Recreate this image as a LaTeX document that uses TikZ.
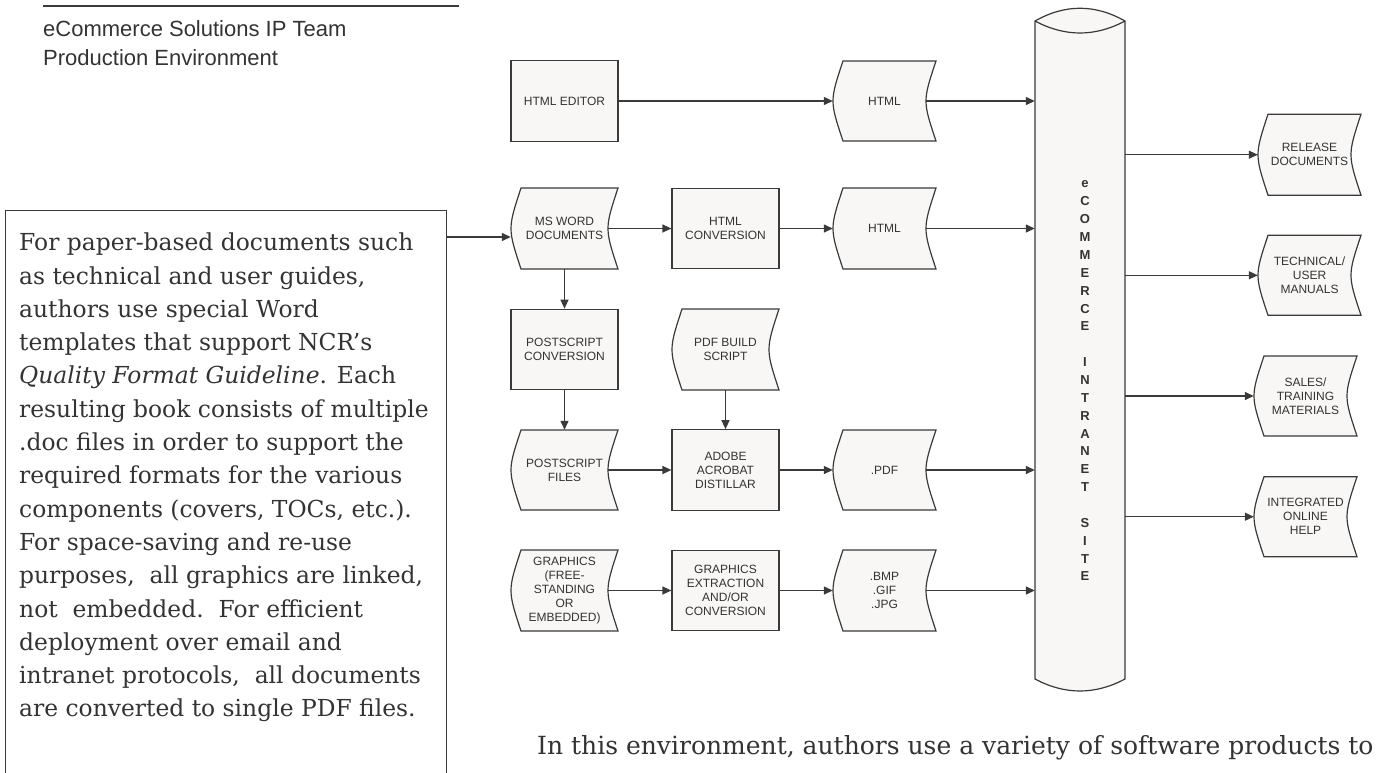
\documentclass[tikz,border=0pt]{standalone}
\usepackage{fontspec}
\setmainfont{DejaVu Serif}
\newfontfamily\arial{Liberation Sans}
\usetikzlibrary{arrows.meta}
\definecolor{shp}{HTML}{F8F7F5}
\definecolor{ln}{HTML}{3A3A3A}
\definecolor{tx}{HTML}{333333}
\tikzset{
 boxstyle/.style={draw=ln, line width=1.2pt, fill=shp, minimum width=107pt, minimum height=80.5pt, inner sep=2pt, align=center, font=\arial\fontsize{12}{14}\selectfont, text=tx},
 doctext/.style={inner sep=2pt, align=center, font=\arial\fontsize{12}{14}\selectfont, text=tx},
 docfill/.style={draw=ln, line width=1.2pt, fill=shp},
 arr/.style={draw=ln, line width=1.3pt, -{Triangle[length=9pt,width=8pt]}},
}
\newcommand\docshape[6]{%
 \path[docfill] ({#2-#4/2+10},{#3-#5/2}) -- ({#2+#4/2},{#3-#5/2}) .. controls ({#2+#4/2-13.33},{#3}) .. ({#2+#4/2},{#3+#5/2}) -- ({#2-#4/2+10},{#3+#5/2}) .. controls ({#2-#4/2-3.33},{#3}) .. cycle;
 \node[doctext, minimum width=#4pt, minimum height=#5pt] (#1) at (#2,#3) {#6};
}
\begin{document}
\begin{tikzpicture}[x=1pt,y=-1pt]
\clip (0,0) rectangle (1384,772);
\useasboundingbox (0,0) rectangle (1384,772);

% header
\draw[ln, line width=2pt] (43,5.7) -- (459,5.7);
\node[anchor=base west, align=left, inner sep=0, font=\arial\fontsize{22}{29}\selectfont, text=tx] (title) at (43,65) {eCommerce Solutions IP Team\\Production Environment};

% note box
\node[draw=ln, line width=1.3pt, anchor=north west, minimum width=441pt, minimum height=620pt, inner sep=0] (notebox) at (5,210) {};
\node[anchor=base west, align=left, inner sep=0, font=\fontsize{23.4}{33.3}\selectfont, text=tx] (notetext) at (19,716.9) {For paper-based documents such\\
as technical and user guides,\\
authors use special Word\\
templates that support NCR’s\\
\textit{Quality Format Guideline}. Each\\
resulting book consists of multiple\\
.doc files in order to support the\\
required formats for the various\\
components (covers, TOCs, etc.).\\
For space-saving and re-use\\
purposes,\ \ all graphics are linked,\\
not\ \ embedded.\ \ For efficient\\
deployment over email and\\
intranet protocols,\ \ all documents\\
are converted to single PDF files.};

% process nodes
\node[boxstyle] (editor) at (564.5,101) {HTML EDITOR};
\docshape{html1}{884.5}{101}{103}{80}{HTML}
\docshape{msword}{564.5}{228.5}{107}{81}{MS WORD\\DOCUMENTS}
\node[boxstyle] (htmlconv) at (725.5,228.5) {HTML\\CONVERSION};
\docshape{html2}{884.5}{228.5}{103}{81}{HTML}
\node[boxstyle] (psconv) at (564.5,349.5) {POSTSCRIPT\\CONVERSION};
\docshape{pdfbuild}{725.5}{349.5}{107}{81}{PDF BUILD\\SCRIPT}
\docshape{psfiles}{564.5}{470}{107}{80}{POSTSCRIPT\\FILES}
\node[boxstyle] (distiller) at (725.5,470) {ADOBE\\ACROBAT\\DISTILLAR};
\docshape{pdf}{884.5}{470}{103}{80}{.PDF}
\docshape{graphics}{564.5}{590.5}{107}{81}{GRAPHICS\\(FREE-\\STANDING\\OR\\EMBEDDED)}
\node[boxstyle] (gextract) at (725.5,590.5) {GRAPHICS\\EXTRACTION\\AND/OR\\CONVERSION};
\docshape{bmp}{884.5}{590.5}{103}{81}{.BMP\\.GIF\\.JPG}

% outputs
\docshape{release}{1309.5}{154.7}{103}{81}{RELEASE\\DOCUMENTS}
\docshape{techman}{1309.5}{275.3}{103}{80}{TECHNICAL/\\USER\\MANUALS}
\docshape{sales}{1305.5}{396}{103}{80}{SALES/\\TRAINING\\MATERIALS}
\docshape{help}{1305.5}{516.7}{103}{80}{INTEGRATED\\ONLINE\\HELP}

% cylinder
\path[docfill] (1035,21) -- (1035,679) .. controls (1065,695) and (1095,695) .. (1125,679) -- (1125,21) .. controls (1095,4) and (1065,4) .. cycle;
\draw[ln, line width=1.2pt] (1035,21) .. controls (1065,37) and (1095,37) .. (1125,21);
\node[minimum width=90pt, minimum height=658pt, inner sep=0] (site) at (1080,350) {};
\node[anchor=base, align=center, inner sep=0, font=\arial\bfseries\fontsize{13}{17.86}\selectfont, text=tx] (sitelabel) at (1085,580.9) {e\\C\\O\\M\\M\\E\\R\\C\\E\\[17.86pt]I\\N\\T\\R\\A\\N\\E\\T\\[17.86pt]S\\I\\T\\E};

% connectors
\draw[arr] ([yshift=-27pt]notebox.north east) -- ([yshift=-8.5pt]msword.west);
\draw[arr] (editor.east) -- (html1.west);
\draw[arr] ([xshift=-10pt]html1.east) -- (site.west |- html1.east);
\draw[arr] ([xshift=-10pt]msword.east) -- (htmlconv.west);
\draw[arr] (htmlconv.east) -- (html2.west);
\draw[arr] ([xshift=-10pt]html2.east) -- (site.west |- html2.east);
\draw[arr] (msword.south) -- (psconv.north);
\draw[arr] (psconv.south) -- (psfiles.north);
\draw[arr] (pdfbuild.south) -- (distiller.north);
\draw[arr] ([xshift=-10pt]psfiles.east) -- (distiller.west);
\draw[arr] (distiller.east) -- (pdf.west);
\draw[arr] ([xshift=-10pt]pdf.east) -- (site.west |- pdf.east);
\draw[arr] ([xshift=-10pt]graphics.east) -- (gextract.west);
\draw[arr] (gextract.east) -- (bmp.west);
\draw[arr] ([xshift=-10pt]bmp.east) -- (site.west |- bmp.east);
\draw[arr] (site.east |- release.west) -- (release.west);
\draw[arr] (site.east |- techman.west) -- (techman.west);
\draw[arr] (site.east |- sales.west) -- (sales.west);
\draw[arr] (site.east |- help.west) -- (help.west);

% bottom text
\node[anchor=base west, inner sep=0, font=\fontsize{25}{30}\selectfont, text=tx] (bottomtext) at (537,754) {In this environment, authors use a variety of software products to};
\end{tikzpicture}
\end{document}
